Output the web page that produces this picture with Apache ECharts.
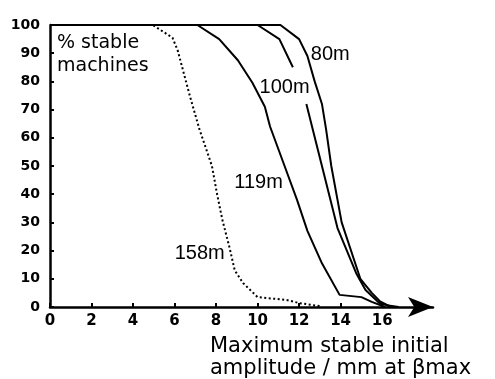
<!DOCTYPE html>
<html>
<head>
<meta charset="utf-8">
<script src="https://cdn.jsdelivr.net/npm/echarts@6/dist/echarts.min.js"></script>
<style>
html,body{margin:0;padding:0;background:#fff;}
#chart{width:495px;height:379px;}
</style>
</head>
<body>
<div id="chart"></div>
<script>
// ---- data (x: amplitude mm at beta max, y: % stable machines) ----
const curve80m = [[0,100],[11.1,100],[12.0,95],[12.4,89],[12.75,80],[13.1,72],[13.3,63],[13.55,50],[14.05,30],[14.95,10],[15.5,5],[15.9,2],[16.3,0.5],[16.8,0]];
const curve100m = [[0,100],[10.0,100],[11.05,95],[11.7,85],[12.0,null],[12.35,72],[13.1,50],[13.85,28],[14.75,12],[15.2,6],[15.85,1.5],[16.5,0]];
const curve119m = [[0,100],[7.1,100],[8.15,95],[9.05,87.5],[9.75,79.5],[10.35,71],[10.6,64],[11.3,50],[11.9,38],[12.4,27],[13.1,15.5],[13.95,4.3],[15.0,3.5],[15.5,1.8],[16.15,0]];
const curve158m = [[0,100],[4.95,100],[5.9,95.5],[6.15,91],[6.75,74.5],[7.2,63],[7.8,50],[8.05,40],[8.3,31],[8.65,21],[8.9,13],[9.3,8.5],[10.0,3.5],[11.4,2.5],[12.0,1.4],[13.0,0.3]];
const seriesNames = ['80m','100m','119m','158m'];
const labelCoords = [[13.5,89.4],[11.3,77.7],[10.05,44],[7.21,19.1]];
const xTicks = [0,2,4,6,8,10,12,14,16];
const yTicks = [0,10,20,30,40,50,60,70,80,90,100];
const yTitle = '% stable\nmachines';
const xTitle = 'Maximum stable initial\namplitude / mm at \u03B2max';

const curves = [curve80m, curve100m, curve119m, curve158m];

const chart = echarts.init(document.getElementById('chart'), null, {renderer:'canvas'});

const series = curves.map((c, i) => ({
  type: 'line',
  name: seriesNames[i],
  data: c,
  showSymbol: false,
  symbol: 'none',
  connectNulls: false,
  smooth: false,
  lineStyle: {color:'#000', width: 2, type: i === 3 ? [2,2.5] : 'solid'},
  z: 3,
  markPoint: {
    symbol: 'rect',
    symbolSize: 1,
    silent: true,
    itemStyle: {color: 'rgba(0,0,0,0)'},
    label: {
      show: true, position: 'inside', formatter: '{b}',
      fontFamily: 'Liberation Sans', fontSize: 20, color: '#000'
    },
    data: [{name: seriesNames[i], coord: labelCoords[i]}]
  }
}));

chart.setOption({
  animation: false,
  backgroundColor: '#fff',
  grid: {left: 50, top: 25, right: 62, bottom: 72, containLabel: false},
  xAxis: {
    type: 'value', min: 0, max: 18.45, interval: 2,
    axisLine: {show: true, onZero: false, lineStyle: {color:'#000', width: 2.5},
      symbol: ['none','arrow'], symbolSize: [15, 25]},
    axisTick: {show: true, inside: true, length: 4, customValues: xTicks, lineStyle: {color:'#000', width: 2}},
    splitLine: {show: false},
    axisLabel: {
      margin: 7, color: '#000', fontFamily: 'DejaVu Sans', fontWeight: 'bold', fontSize: 15,
      customValues: xTicks,
      formatter: v => xTicks.indexOf(v) >= 0 ? String(v) : ''
    }
  },
  yAxis: {
    type: 'value', min: 0, max: 100, interval: 10,
    axisLine: {show: true, onZero: false, lineStyle: {color:'#000', width: 2.5}},
    axisTick: {show: true, inside: true, length: 4, lineStyle: {color:'#000', width: 2}},
    splitLine: {show: false},
    axisLabel: {
      margin: 10, color: '#000', fontFamily: 'DejaVu Sans', fontWeight: 'bold', fontSize: 14,
      formatter: v => yTicks.indexOf(v) >= 0 ? String(v) : ''
    }
  },
  graphic: [
    {type:'text', left: 57, top: 32, z: 10,
      style: {text: yTitle, fill:'#000', font: '19px "DejaVu Sans"', lineHeight: 23}},
    {type:'text', left: 210, top: 336, z: 10,
      style: {text: xTitle, fill:'#000', font: '21px "DejaVu Sans"', lineHeight: 22}}
  ],
  series: series
});
</script>
</body>
</html>
